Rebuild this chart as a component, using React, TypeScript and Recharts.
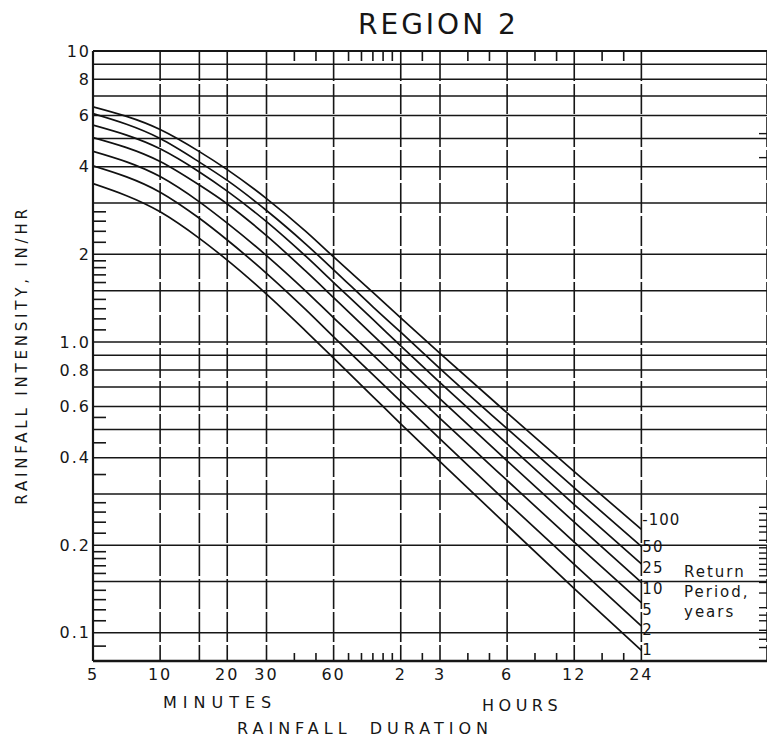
import React from 'react';
import { LineChart, Line, XAxis, YAxis, CartesianGrid } from 'recharts';

// Rainfall duration in minutes
const durations = [5, 10, 15, 20, 30, 45, 60, 90, 120, 180, 360, 720, 1440];

// Rainfall intensity (in/hr) per return period
const rp100 = [6.43, 5.37, 4.51, 3.91, 3.11, 2.4, 1.96, 1.48, 1.21, 0.913, 0.57, 0.358, 0.227];
const rp50 = [6.09, 5.0, 4.15, 3.59, 2.83, 2.17, 1.77, 1.32, 1.08, 0.81, 0.503, 0.315, 0.198];
const rp25 = [5.56, 4.61, 3.84, 3.3, 2.59, 1.97, 1.6, 1.195, 0.969, 0.725, 0.446, 0.276, 0.1725];
const rp10 = [5.04, 4.17, 3.46, 2.98, 2.32, 1.75, 1.42, 1.056, 0.854, 0.637, 0.39, 0.24, 0.149];
const rp5 = [4.52, 3.7, 3.03, 2.56, 1.98, 1.495, 1.21, 0.903, 0.731, 0.546, 0.334, 0.205, 0.127];
const rp2 = [4.03, 3.27, 2.66, 2.24, 1.72, 1.29, 1.04, 0.772, 0.624, 0.464, 0.281, 0.172, 0.1056];
const rp1 = [3.5, 2.8, 2.27, 1.91, 1.46, 1.09, 0.88, 0.649, 0.523, 0.388, 0.234, 0.142, 0.087];

const seriesKeys = ['r100', 'r50', 'r25', 'r10', 'r5', 'r2', 'r1'];
const seriesNames = ['-100', '50', '25', '10', '5', '2', '1'];
const seriesValues = [rp100, rp50, rp25, rp10, rp5, rp2, rp1];

// Axis ticks
const xTicks = [5, 10, 15, 20, 30, 60, 120, 180, 360, 720, 1440];
const xTickLabels = ['5', '10', '', '20', '30', '60', '2', '3', '6', '12', '24'];
const xMinorTicks = [40, 50, 70, 80, 90, 100, 110, 150, 240, 300, 480, 600, 960, 1200];

const yTicks = [10, 9, 8, 7, 6, 5, 4, 3, 2, 1.5, 1, 0.9, 0.8, 0.7, 0.6, 0.5, 0.4, 0.3, 0.2, 0.15, 0.1];
const yTickLabels = ['10', '', '8', '', '6', '', '4', '', '2', '', '1.0', '', '0.8', '', '0.6', '', '0.4', '', '0.2', '', '0.1'];
const yMinorTicks = [2.8, 2.6, 2.4, 2.2, 1.9, 1.8, 1.7, 1.6, 1.4, 1.3, 1.2, 1.1, 0.55, 0.45, 0.35, 0.28, 0.26, 0.24, 0.22, 0.19, 0.18, 0.17, 0.16, 0.14, 0.13, 0.12, 0.11, 0.09];
const yRightTicks = [5.2, 4.3, 0.27, 0.257, 0.244, 0.232, 0.222, 0.208, 0.196, 0.188, 0.18, 0.172, 0.165, 0.157, 0.149, 0.137, 0.122, 0.115, 0.11, 0.102, 0.095, 0.089];

const X_DOMAIN: [number, number] = [5, 5270];
const Y_DOMAIN: [number, number] = [0.08, 10];

const data = durations.map((d, i) => {
  const row: Record<string, number> = { d };
  seriesKeys.forEach((k, j) => {
    row[k] = seriesValues[j][i];
  });
  return row;
});

const labelDy = [-9, 0, 4, 7, 7, 4, 0];
const FONT = '"DejaVu Sans", sans-serif';
const INK = '#161616';

const makeEndLabel = (name: string, dy: number) => (props: any) => {
  const { x, y, index } = props;
  if (index !== durations.length - 1) return null;
  return (
    <text
      x={x + 1}
      y={y + dy}
      dominantBaseline="central"
      fontFamily={FONT}
      fontSize={15}
      letterSpacing={1}
      fill={INK}
    >
      {name}
    </text>
  );
};

const xFmt = (v: number) => {
  const i = xTicks.indexOf(v);
  return i >= 0 ? xTickLabels[i] : '';
};
const yFmt = (v: number) => {
  const i = yTicks.indexOf(v);
  return i >= 0 ? yTickLabels[i] : '';
};
const blankFmt = () => '';

const tickStyle = { fontFamily: FONT, fontSize: 16, fill: INK, letterSpacing: 2 };
const minorLine = { stroke: INK, strokeWidth: 1.6 };
const textBase: React.CSSProperties = {
  position: 'absolute',
  fontFamily: FONT,
  color: INK,
  whiteSpace: 'nowrap',
  lineHeight: '20px',
};

export default function App() {
  return (
    <div
      style={{
        position: 'absolute',
        left: 0,
        top: 0,
        width: 767,
        height: 745,
        background: '#fff',
        overflow: 'hidden',
      }}
    >
      <LineChart
        width={767}
        height={745}
        data={data}
        margin={{ top: 51, right: 0, bottom: 54, left: 33 }}
      >
        <CartesianGrid horizontal={true} vertical={false} stroke={INK} strokeWidth={1.5} />
        <CartesianGrid
          horizontal={false}
          vertical={true}
          stroke={INK}
          strokeWidth={1.6}
          strokeDasharray="30 3"
        />
        <XAxis
          dataKey="d"
          type="number"
          scale="log"
          domain={X_DOMAIN}
          allowDataOverflow
          ticks={xTicks}
          interval={0}
          tickFormatter={xFmt}
          tickLine={false}
          tickSize={0}
          tickMargin={8}
          height={30}
          axisLine={{ stroke: INK, strokeWidth: 2.5 }}
          tick={tickStyle}
        />
        <XAxis
          xAxisId="top"
          orientation="top"
          mirror
          dataKey="d"
          type="number"
          scale="log"
          domain={X_DOMAIN}
          allowDataOverflow
          ticks={xMinorTicks}
          interval={0}
          tickFormatter={blankFmt}
          tickSize={10}
          tickLine={minorLine}
          axisLine={{ stroke: INK, strokeWidth: 2.2 }}
        />
        <XAxis
          xAxisId="bottomMinor"
          orientation="bottom"
          mirror
          dataKey="d"
          type="number"
          scale="log"
          domain={X_DOMAIN}
          allowDataOverflow
          ticks={xMinorTicks}
          interval={0}
          tickFormatter={blankFmt}
          tickSize={8}
          tickLine={minorLine}
          axisLine={false}
        />
        <YAxis
          type="number"
          scale="log"
          domain={Y_DOMAIN}
          allowDataOverflow
          ticks={yTicks}
          interval={0}
          tickFormatter={yFmt}
          tickLine={false}
          tickSize={0}
          tickMargin={2}
          width={60}
          axisLine={{ stroke: INK, strokeWidth: 2.2 }}
          tick={tickStyle}
        />
        <YAxis
          yAxisId="leftMinor"
          orientation="left"
          mirror
          type="number"
          scale="log"
          domain={Y_DOMAIN}
          allowDataOverflow
          ticks={yMinorTicks}
          interval={0}
          tickFormatter={blankFmt}
          tickSize={13}
          tickLine={minorLine}
          axisLine={false}
        />
        <YAxis
          yAxisId="rightMinor"
          orientation="right"
          mirror
          type="number"
          scale="log"
          domain={Y_DOMAIN}
          allowDataOverflow
          ticks={yRightTicks}
          interval={0}
          tickFormatter={blankFmt}
          tickSize={8}
          tickLine={{ stroke: INK, strokeWidth: 1.4 }}
          axisLine={false}
        />
        {seriesKeys.map((k, j) => (
          <Line
            key={k}
            dataKey={k}
            type="monotone"
            stroke="#111"
            strokeWidth={1.7}
            dot={false}
            activeDot={false}
            isAnimationActive={false}
            label={makeEndLabel(seriesNames[j], labelDy[j])}
          />
        ))}
      </LineChart>

      <div style={{ ...textBase, left: 358, top: 8, fontSize: 28, letterSpacing: 3, lineHeight: '34px' }}>
        REGION 2
      </div>
      <div
        style={{
          ...textBase,
          left: -178,
          top: 345,
          width: 400,
          textAlign: 'center',
          fontSize: 15,
          letterSpacing: 3.8,
          transform: 'rotate(-90deg)',
        }}
      >
        RAINFALL INTENSITY, IN/HR
      </div>
      <div style={{ ...textBase, left: 163, top: 693, fontSize: 16, letterSpacing: 6 }}>MINUTES</div>
      <div style={{ ...textBase, left: 482, top: 696, fontSize: 16, letterSpacing: 4.5 }}>HOURS</div>
      <div style={{ ...textBase, left: 237, top: 719, fontSize: 16, letterSpacing: 5, wordSpacing: 8 }}>
        RAINFALL DURATION
      </div>
      <div style={{ ...textBase, left: 684, top: 562, fontSize: 15, letterSpacing: 2 }}>
        Return
        <br />
        Period,
        <br />
        years
      </div>
    </div>
  );
}
